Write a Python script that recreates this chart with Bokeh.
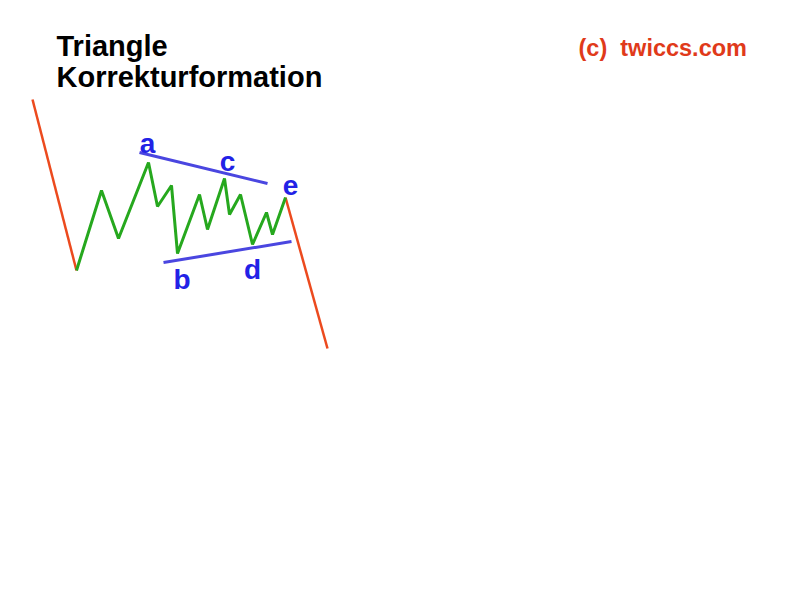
from bokeh.plotting import figure
from bokeh.models import Range1d, Label, ColumnDataSource
from bokeh.core.properties import value
from bokeh.embed import file_html
from bokeh.resources import INLINE

# --- data (x = time position, y = price) ---
lead_x = [32, 76]
lead_y = [501, 330]

wave_x = [76, 101, 118, 148, 157, 171, 177, 199, 207, 224, 229, 240, 252, 266, 272, 285]
wave_y = [330, 410, 362, 438, 394, 415, 347, 406, 371, 422, 386, 406, 356, 388, 366, 403]

exit_x = [285, 327]
exit_y = [403, 252]

upper_x = [139, 267]
upper_y = [448, 417]
lower_x = [163, 291]
lower_y = [338, 359]

label_text = ["a", "b", "c", "d", "e"]
label_x = [147, 181.5, 227, 252, 290]
label_y = [457, 321, 439, 331.5, 415.5]

title_lines = ["Triangle", "Korrekturformation"]
copyright_text = "(c)\u00a0 twiccs.com"

RED = "#ec4a1e"
GREEN = "#26a81e"
BLUE_LINE = "#4a46e0"
BLUE_TEXT = "#2222e6"
FONT = "Liberation Sans"

p = figure(width=784, height=584, output_backend="svg", toolbar_location=None,
           x_range=Range1d(0, 784), y_range=Range1d(16, 600),
           min_border=0, outline_line_color=None)
p.xaxis.visible = False
p.yaxis.visible = False
p.grid.visible = False
p.background_fill_color = "white"
p.border_fill_color = "white"

p.line(lead_x, lead_y, line_color=RED, line_width=2.5)
p.line(exit_x, exit_y, line_color=RED, line_width=2.5)
p.line(wave_x, wave_y, line_color=GREEN, line_width=3)
p.line(upper_x, upper_y, line_color=BLUE_LINE, line_width=3)
p.line(lower_x, lower_y, line_color=BLUE_LINE, line_width=3)

src = ColumnDataSource(dict(x=label_x, y=label_y, t=label_text))
p.text(x="x", y="y", text="t", source=src, text_color=BLUE_TEXT,
       text_font=value(FONT), text_font_style="bold", text_font_size="28px",
       text_align="center", text_baseline="alphabetic")

p.add_layout(Label(x=56, y=608 - 53.5, text=title_lines[0], text_font=FONT,
                   text_font_style="bold", text_font_size="29px", text_color="black",
                   text_baseline="alphabetic"))
p.add_layout(Label(x=56, y=608 - 84, text=title_lines[1], text_font=FONT,
                   text_font_style="bold", text_font_size="29px", text_color="black",
                   text_baseline="alphabetic"))
p.add_layout(Label(x=578, y=608 - 55, text=copyright_text, text_font=FONT,
                   text_font_style="bold", text_font_size="23.5px", text_color="#e03a1a",
                   text_baseline="alphabetic"))

open("out.html", "w").write(file_html(p, INLINE))
